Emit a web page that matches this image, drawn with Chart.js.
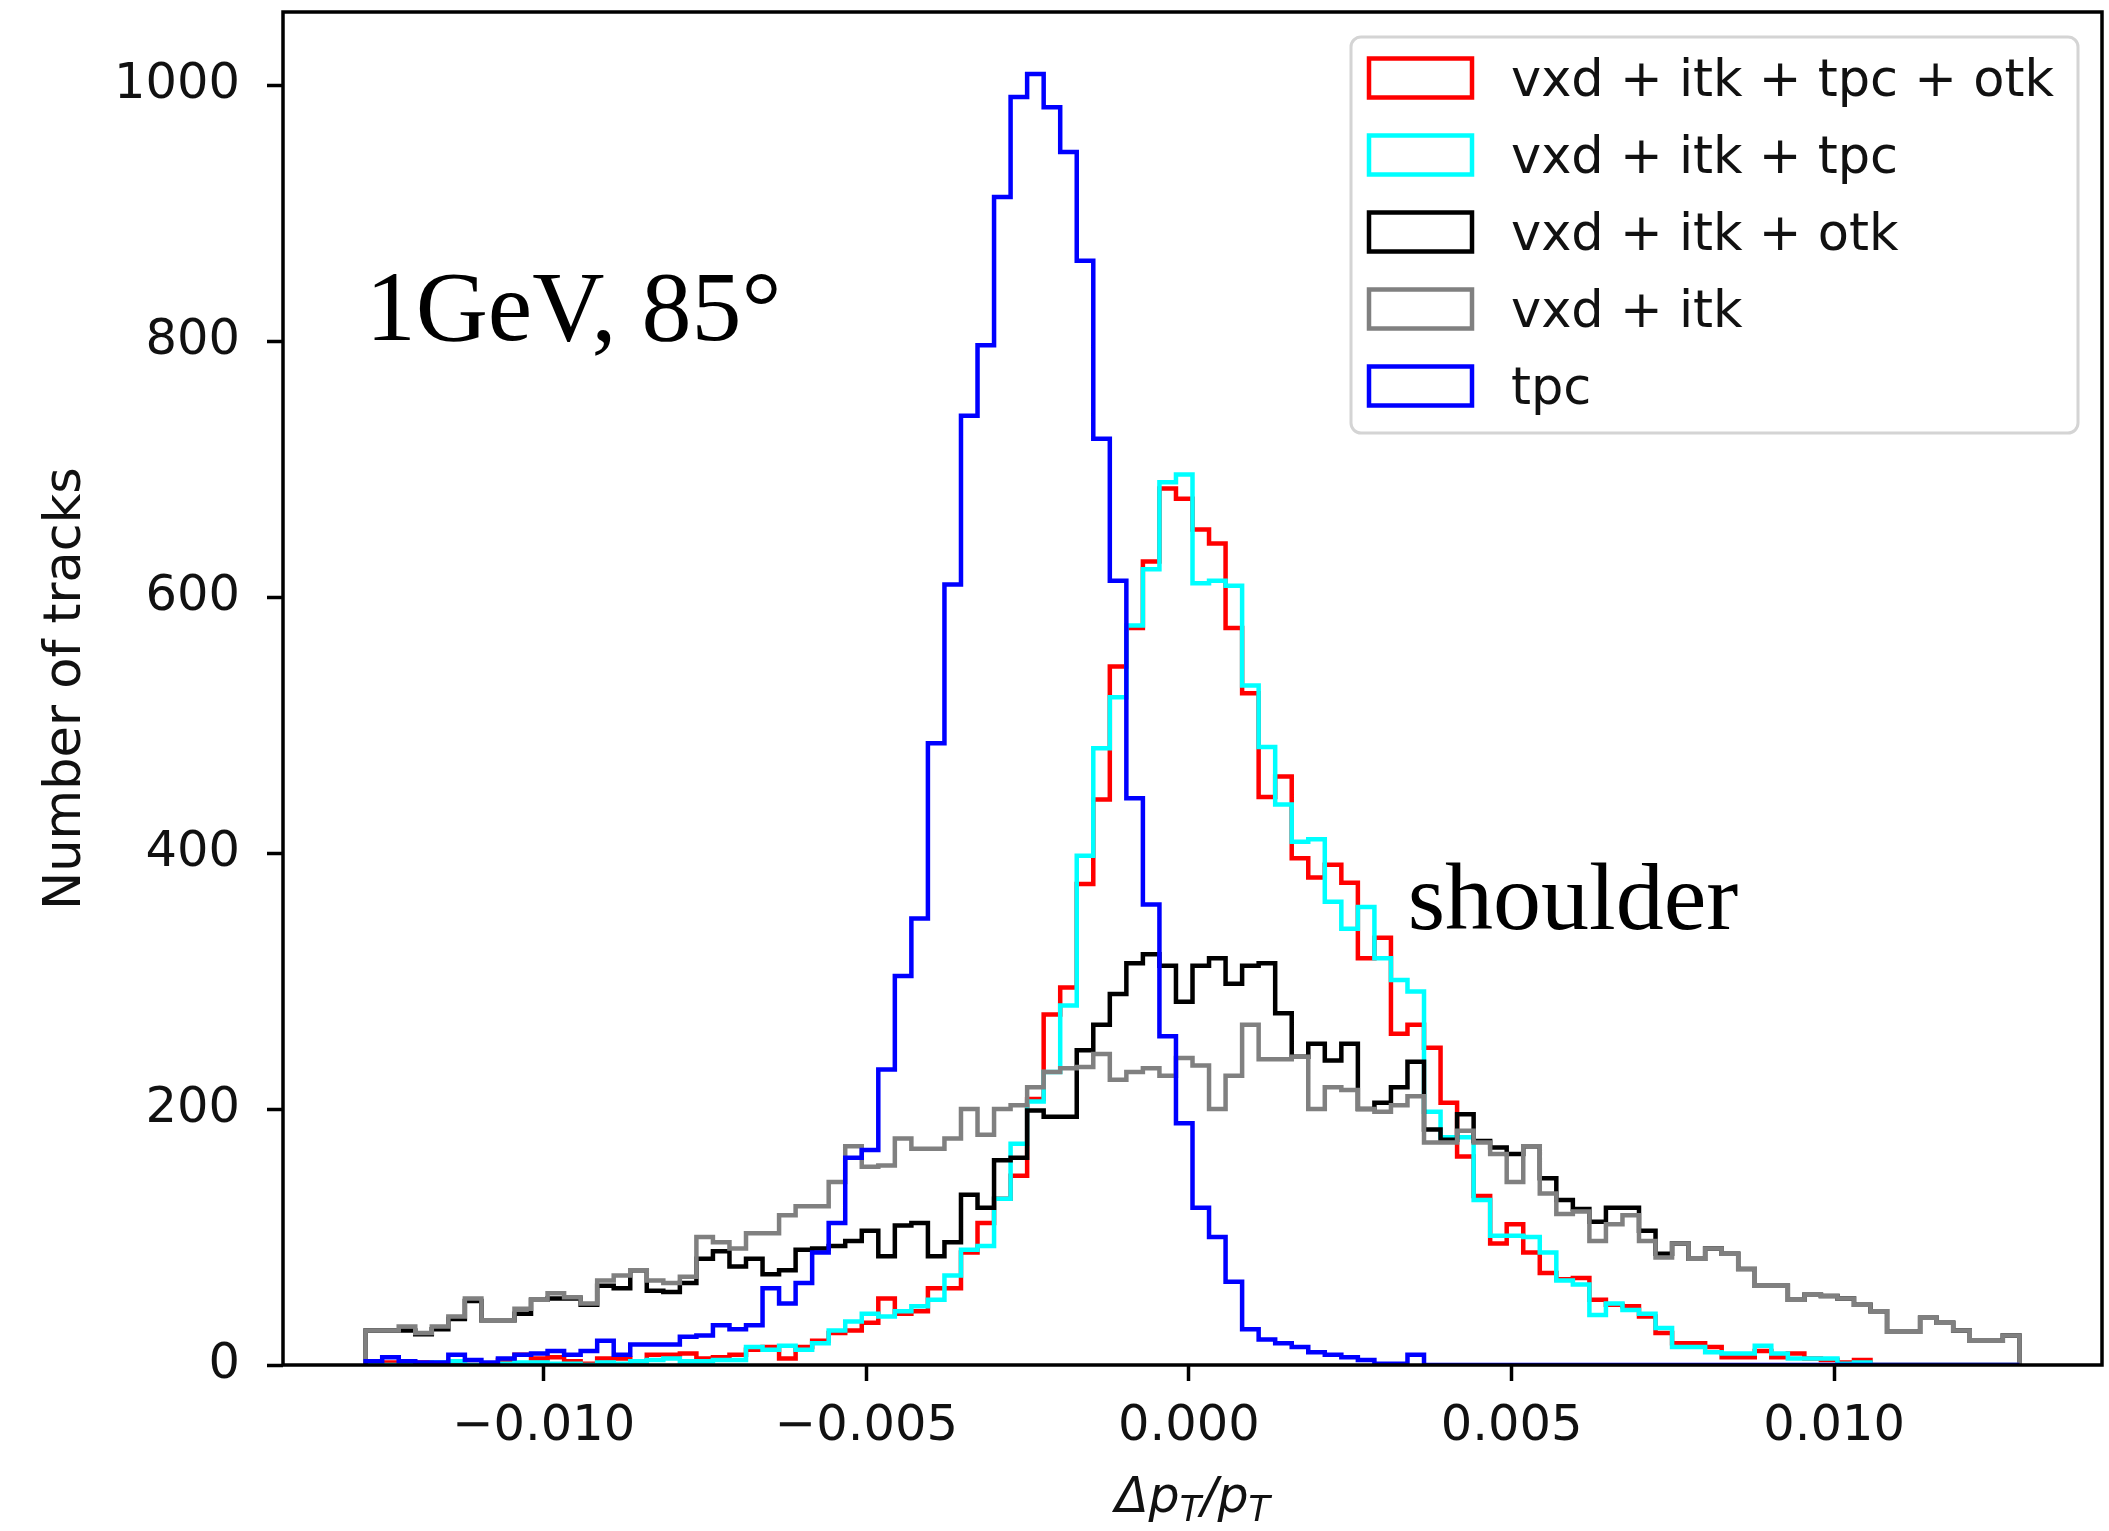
<!DOCTYPE html>
<html>
<head>
<meta charset="utf-8">
<script src="https://cdn.jsdelivr.net/npm/chart.js@4.4.0/dist/chart.umd.min.js"></script>
<style>
html,body{margin:0;padding:0;background:#fff;}
#wrap{position:relative;width:2109px;height:1531px;}
</style>
</head>
<body>
<div id="wrap"><canvas id="c"></canvas></div>
<script>
// ---------------- data ----------------
const BIN_MIN = -0.01276;
const BIN_MAX = 0.01287;
const N_BINS = 100;

const seriesLabels = ['vxd + itk + tpc + otk', 'vxd + itk + tpc', 'vxd + itk + otk', 'vxd + itk', 'tpc'];
const seriesColors = ['#ff0000', '#00ffff', '#000000', '#808080', '#0000ff'];

const vxdItkTpcOtk = [
  2,2,1,2,0,1,0,1,4,8, 5,6,3,1,5,5,3,8,8,9, 5,6,8,12,14,5,14,19,25,27,
  33,52,40,42,60,60,88,111,130,148, 208,274,295,376,442,546,576,628,685,677,
  653,642,576,525,444,460,396,381,391,377, 318,334,259,266,248,205,163,132,95,110,
  88,72,67,68,51,47,46,38,25,17, 17,14,6,6,11,6,9,5,4,2, 4,0,0,0,0,0,0,0,0,0
];
const vxdItkTpc = [
  0,0,0,1,2,3,0,1,1,2, 2,1,1,0,2,1,3,4,5,3, 3,4,4,14,12,15,12,17,27,34,
  40,38,42,46,51,70,90,93,130,173, 206,229,281,398,482,522,578,622,690,696,
  611,613,609,531,483,438,409,411,362,341, 358,318,301,292,198,178,178,129,101,101,
  100,88,66,63,39,48,43,40,29,14, 14,10,9,9,15,9,5,5,5,1, 2,0,0,0,0,0,0,0,0,0
];
const vxdItkOtk = [
  27,27,27,24,28,36,50,35,35,40, 51,52,52,47,62,60,74,58,57,64, 83,89,77,83,71,74,90,91,93,97,
  105,85,109,111,85,96,133,123,160,162, 199,194,194,246,266,290,314,321,312,284,
  312,318,298,312,314,275,241,251,238,251, 200,205,217,237,184,176,196,175,170,165,
  171,146,129,122,112,123,123,105,87,95, 83,91,87,75,62,62,51,55,54,52, 47,42,26,26,37,33,27,19,19,23
];
const vxdItk = [
  27,27,30,25,30,38,52,35,35,44, 51,56,53,48,66,70,74,66,64,69, 100,96,91,103,103,117,124,124,143,171,
  155,156,177,169,169,177,200,180,200,203, 217,229,232,233,243,223,229,232,226,240,
  234,200,226,266,239,239,241,200,217,215, 200,198,203,210,174,174,183,174,165,143,
  171,134,118,120,97,110,117,97,84,95, 83,91,87,75,62,62,51,55,54,52, 47,42,26,26,37,33,27,19,19,23
];
const tpc = [
  3,6,3,2,2,8,4,2,5,8, 9,11,8,11,19,8,16,16,16,22, 23,31,28,31,60,48,64,88,111,162,
  168,231,304,349,486,610,742,797,913,991, 1009,983,948,863,724,613,443,360,257,189,
  123,100,65,28,20,17,14,10,8,6, 4,1,1,8,0,0,0,0,0,0,
  0,0,0,0,0,0,0,0,0,0, 0,0,0,0,0,0,0,0,0,0, 0,0,0,0,0,0,0,0,0,0
];

const xTickValues = [-0.010, -0.005, 0.000, 0.005, 0.010];
const yTickValues = [0, 200, 400, 600, 800, 1000];
const annotationTexts = ['1GeV, 85°', 'shoulder'];
const xTitle = ['Δ', 'p', 'T', '/', 'p', 'T'];
const yTitle = 'Number of tracks';

// ---------------- build ----------------
const binEdges = [];
for (let i = 0; i <= N_BINS; i++) binEdges.push(BIN_MIN + i * (BIN_MAX - BIN_MIN) / N_BINS);

function stepPoints(values) {
  const pts = [{x: binEdges[0], y: 0}];
  values.forEach((v, i) => pts.push({x: binEdges[i], y: v}));
  pts.push({x: binEdges[N_BINS], y: 0});
  return pts;
}

const allSeries = [vxdItkTpcOtk, vxdItkTpc, vxdItkOtk, vxdItk, tpc];
const drawOrder = [5, 4, 3, 2, 1]; // lower = on top (tpc on top, as in the plot)

const datasets = allSeries.map((vals, k) => ({
  label: seriesLabels[k],
  data: stepPoints(vals),
  borderColor: seriesColors[k],
  backgroundColor: 'transparent',
  borderWidth: 4.5,
  stepped: 'before',
  fill: false,
  pointRadius: 0,
  tension: 0,
  order: drawOrder[k],
  borderJoinStyle: 'miter',
  borderCapStyle: 'butt'
}));

const TICK_FONT = {family: 'DejaVu Sans', size: 49.5};

const decorPlugin = {
  id: 'decor',
  afterDraw(chart) {
    const ctx = chart.ctx;
    const a = chart.chartArea;
    const xs = chart.scales.x, ys = chart.scales.y;
    ctx.save();
    // frame
    ctx.strokeStyle = '#000';
    ctx.lineWidth = 3.5;
    ctx.strokeRect(a.left, a.top, a.right - a.left, a.bottom - a.top);

    // annotations (placed in data coordinates)
    ctx.fillStyle = '#000';
    ctx.textAlign = 'left';
    ctx.textBaseline = 'alphabetic';
    ctx.font = '100px "Liberation Serif"';
    ctx.fillText(annotationTexts[0], xs.getPixelForValue(-0.01276), ys.getPixelForValue(801));
    ctx.font = '96px "Liberation Serif"';
    ctx.fillText(annotationTexts[1], xs.getPixelForValue(0.00339), ys.getPixelForValue(341));

    // legend
    const lgX = 1351, lgY = 37, lgW = 727, lgH = 396;
    ctx.beginPath();
    ctx.roundRect(lgX, lgY, lgW, lgH, 10);
    ctx.fillStyle = 'rgba(255,255,255,0.8)';
    ctx.fill();
    ctx.strokeStyle = '#d4d4d4';
    ctx.lineWidth = 3;
    ctx.stroke();
    ctx.font = '51px "DejaVu Sans"';
    seriesLabels.forEach((lab, i) => {
      const cy = 78 + 77 * i;
      ctx.strokeStyle = seriesColors[i];
      ctx.lineWidth = 4.5;
      ctx.strokeRect(1369, cy - 19.5, 103, 39);
      ctx.fillStyle = '#111';
      ctx.fillText(lab, 1511, cy + 18);
    });

    // y title
    ctx.save();
    ctx.translate(80, (a.top + a.bottom) / 2);
    ctx.rotate(-Math.PI / 2);
    ctx.textAlign = 'center';
    ctx.fillStyle = '#111';
    ctx.font = '51px "DejaVu Sans"';
    ctx.fillText(yTitle, 0, 0);
    ctx.restore();

    // x title with subscripts
    const mainF = 'oblique 49px "DejaVu Sans"', subF = 'oblique 35px "DejaVu Sans"';
    const subs = [false, false, true, false, false, true];
    let total = 0;
    const widths = xTitle.map((t, i) => { ctx.font = subs[i] ? subF : mainF; const w = ctx.measureText(t).width; total += w; return w; });
    let x = (a.left + a.right) / 2 - total / 2;
    const base = 1512;
    ctx.textAlign = 'left';
    ctx.fillStyle = '#111';
    xTitle.forEach((t, i) => {
      ctx.font = subs[i] ? subF : mainF;
      ctx.fillText(t, x, subs[i] ? base + 9 : base);
      x += widths[i];
    });
    ctx.restore();
  }
};

new Chart(document.getElementById('c'), {
  type: 'line',
  data: {datasets},
  options: {
    animation: false,
    responsive: true,
    maintainAspectRatio: false,
    devicePixelRatio: 1,
    layout: {padding: {top: 12, right: 7, left: 0, bottom: 0}},
    plugins: {legend: {display: false}, tooltip: {enabled: false}, title: {display: false}},
    elements: {point: {radius: 0}},
    scales: {
      x: {
        type: 'linear',
        min: -0.014041,
        max: 0.014151,
        afterBuildTicks: s => { s.ticks = xTickValues.map(v => ({value: v})); },
        afterFit: s => { s.height = 166; s.paddingLeft = 0; s.paddingRight = 0; s.paddingTop = 0; s.paddingBottom = 0; },
        ticks: {
          font: TICK_FONT, color: '#111', padding: 16, maxRotation: 0, minRotation: 0, autoSkip: false,
          callback: v => (Math.abs(v) < 1e-12 ? '0.000' : v.toFixed(3).replace('-', '\u2212'))
        },
        grid: {display: true, drawOnChartArea: false, drawTicks: true, tickLength: 16, tickWidth: 3.5, tickColor: '#000'},
        border: {display: false}
      },
      y: {
        type: 'linear',
        min: 0,
        max: 1057.5,
        afterBuildTicks: s => { s.ticks = yTickValues.map(v => ({value: v})); },
        afterFit: s => { s.width = 283; s.paddingTop = 0; s.paddingBottom = 0; s.paddingLeft = 0; s.paddingRight = 0; },
        ticks: {font: TICK_FONT, color: '#111', padding: 27, autoSkip: false, callback: v => String(v)},
        grid: {display: true, drawOnChartArea: false, drawTicks: true, tickLength: 16, tickWidth: 3.5, tickColor: '#000'},
        border: {display: false}
      }
    }
  },
  plugins: [decorPlugin]
});
</script>
</body>
</html>
